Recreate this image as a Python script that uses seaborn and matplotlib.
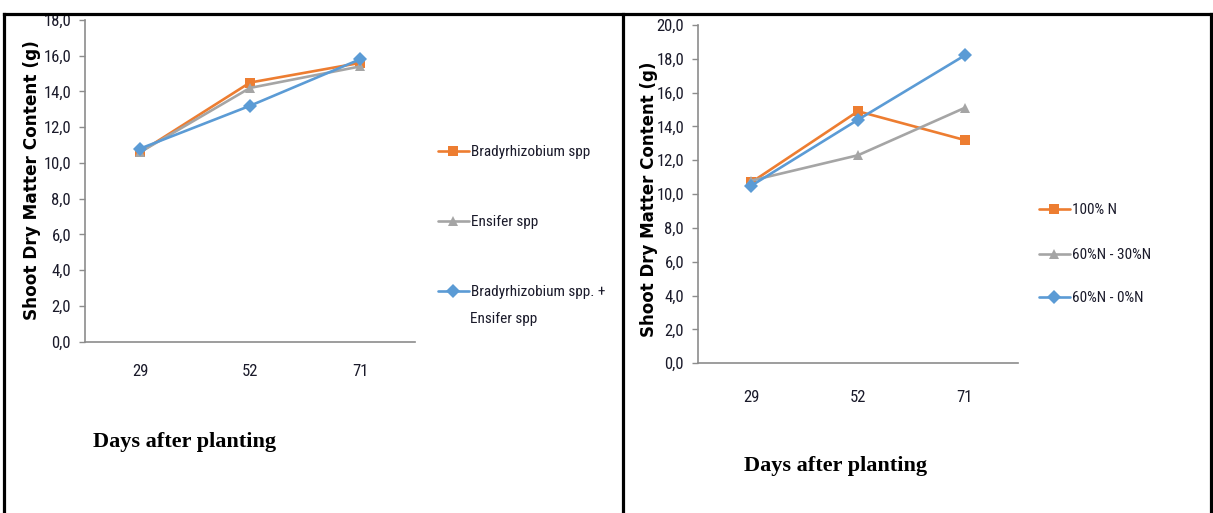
import numpy as np
import pandas as pd
import seaborn as sns
import matplotlib
matplotlib.use("Agg")
import matplotlib.pyplot as plt
from matplotlib.lines import Line2D
from matplotlib import font_manager

# Sampling dates (days after planting)
days = ["29", "52", "71"]

# Left panel: inoculant treatments
inoc_labels = ["Bradyrhizobium spp", "Ensifer spp", "Bradyrhizobium spp. + Ensifer spp"]
brady = [10.6, 14.5, 15.6]
ensifer = [10.6, 14.2, 15.4]
brady_ensifer = [10.8, 13.2, 15.8]

# Right panel: nitrogen fertiliser treatments
n_labels = ["100% N", "60%N - 30%N", "60%N - 0%N"]
n100 = [10.7, 14.9, 13.2]
n60_30 = [10.8, 12.3, 15.1]
n60_0 = [10.5, 14.4, 18.2]

yticks_left = [0, 2, 4, 6, 8, 10, 12, 14, 16, 18]
yticks_right = [0, 2, 4, 6, 8, 10, 12, 14, 16, 18, 20]

colors = ["#ED7D31", "#A5A5A5", "#5B9BD5"]
markers = ["s", "^", "D"]

sns.set_theme(style="white")
plt.rcParams["font.family"] = ["DejaVu Sans"]

W, H = 1213, 513
fig = plt.figure(figsize=(W / 100, H / 100), dpi=100)

installed = {f.name for f in font_manager.fontManager.ttflist}
narrow = next((n for n in ["Liberation Sans Narrow", "Roboto Condensed",
                           "Open Sans Condensed", "Lato", "Liberation Sans"]
               if n in installed), "DejaVu Sans")
TICK_FONT = [narrow, "DejaVu Sans"]
TICK_SIZE = 12
LEG_SIZE = 11
TEXT_COLOR = "#1a1a2a"
AXIS_COLOR = "#8c8c8c"


def long_frame(labels, series):
    rows = []
    for lab, vals in zip(labels, series):
        for d, v in zip(days, vals):
            rows.append({"Day": d, "Value": v, "Treatment": lab})
    return pd.DataFrame(rows)


def draw_panel(rect, labels, series, yticks, ylabel_xy, xpad, ylabel_size):
    ax = fig.add_axes(rect)
    df = long_frame(labels, series)
    sns.lineplot(
        data=df, x="Day", y="Value", hue="Treatment", style="Treatment",
        hue_order=labels, style_order=labels,
        palette=colors, markers=markers, dashes=False,
        linewidth=1.9, markersize=7, markeredgewidth=0,
        sort=False, legend=False, ax=ax,
    )
    ax.set_xlim(-0.5, 2.5)
    ax.set_ylim(yticks[0], yticks[-1])
    ax.set_yticks(yticks)
    ax.set_yticklabels([f"{t:.1f}".replace(".", ",") for t in yticks],
                       family=TICK_FONT, fontsize=TICK_SIZE, color=TEXT_COLOR)
    ax.set_xticks(range(len(days)))
    ax.set_xticklabels(days, family=TICK_FONT, fontsize=TICK_SIZE, color=TEXT_COLOR)
    ax.tick_params(axis="y", length=4, width=1, color=AXIS_COLOR, pad=6, left=True)
    ax.tick_params(axis="x", length=0, pad=xpad)
    for side in ("top", "right"):
        ax.spines[side].set_visible(False)
    for side in ("left", "bottom"):
        ax.spines[side].set_color(AXIS_COLOR)
        ax.spines[side].set_linewidth(1.2)
    ax.set_xlabel("")
    ax.set_ylabel("Shoot Dry Matter Content (g)", fontweight="bold",
                  fontsize=ylabel_size, color="black")
    ax.yaxis.set_label_coords(*ylabel_xy)
    ax.patch.set_alpha(0)
    return ax


def px_rect(x0, x1, ytop, ybot):
    return [x0 / W, 1 - ybot / H, (x1 - x0) / W, (ybot - ytop) / H]


ax_l = draw_panel(px_rect(85, 415, 20, 341.7), inoc_labels,
                  [brady, ensifer, brady_ensifer], yticks_left,
                  (-0.133, 0.503), 16, 12.2)
ax_r = draw_panel(px_rect(698, 1018, 25, 363.3), n_labels,
                  [n100, n60_30, n60_0], yticks_right,
                  (-0.125, 0.486), 19, 12.0)


def legend_entry(label, color, marker, x_px, y_px):
    h = Line2D([], [], color=color, marker=marker, linewidth=1.9,
               markersize=7, markeredgewidth=0)
    leg = fig.legend([h], [label], loc="center left",
                     bbox_to_anchor=(x_px / W, 1 - y_px / H),
                     bbox_transform=fig.transFigure, frameon=False,
                     borderpad=0, borderaxespad=0, handlelength=2.0,
                     handletextpad=0.15, prop={"family": TICK_FONT, "size": LEG_SIZE})
    for t in leg.get_texts():
        t.set_color(TEXT_COLOR)
    return leg


# Left legend; the long combined label wraps onto a second line
left_shown = ["Bradyrhizobium spp", "Ensifer spp", "Bradyrhizobium spp. +"]
for lab, c, m, y in zip(left_shown, colors, markers, [152, 222, 292]):
    legend_entry(lab, c, m, 438, y)
fig.text(470 / W, 1 - 319 / H, "Ensifer spp", family=TICK_FONT,
         fontsize=LEG_SIZE, color=TEXT_COLOR, ha="left", va="center")

for lab, c, m, y in zip(n_labels, colors, markers, [210, 255, 298]):
    legend_entry(lab, c, m, 1039, y)

# Axis titles below each panel
fig.text(93 / W, 1 - 447 / H, "Days after planting", family="Liberation Serif",
         fontweight="bold", fontsize=16, ha="left", va="baseline", color="black")
fig.text(744 / W, 1 - 471 / H, "Days after planting", family="Liberation Serif",
         fontweight="bold", fontsize=16, ha="left", va="baseline", color="black")

# Table frame around the two panels
frame_kw = dict(color="black", linewidth=2.3, transform=fig.transFigure,
                solid_capstyle="projecting")
ytop = 1 - 14 / H
fig.add_artist(Line2D([4 / W, 1211 / W], [ytop, ytop], **frame_kw))
for xp in (4, 623, 1211):
    fig.add_artist(Line2D([xp / W, xp / W], [0, ytop], **frame_kw))

fig.savefig("out.png", dpi=100, facecolor="white")
